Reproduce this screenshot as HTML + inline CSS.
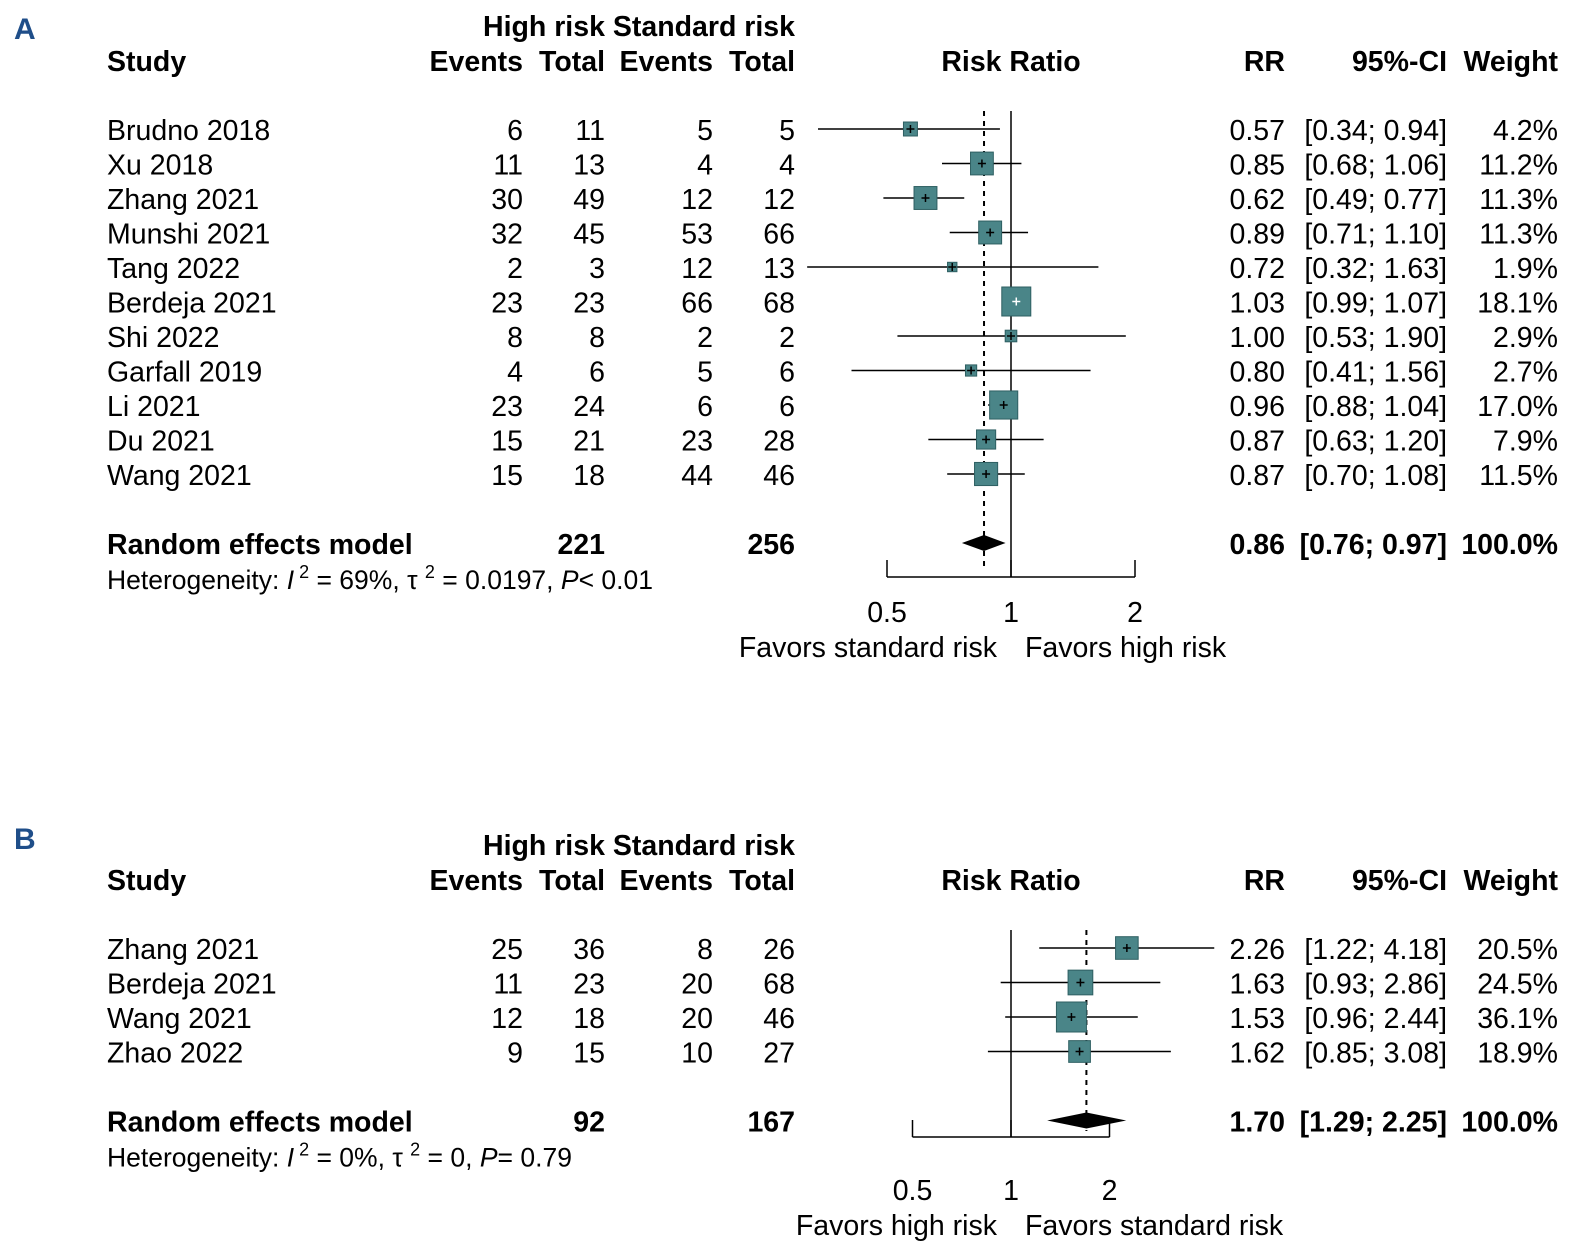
<!DOCTYPE html>
<html><head><meta charset="utf-8"><style>
html,body{margin:0;padding:0;background:#fff}
svg{display:block;font-family:"Liberation Sans",Arial,sans-serif}
</style></head><body>
<svg id="fig" width="1571" height="1247" viewBox="0 0 1571 1247">
<text x="14" y="39" font-size="30" font-weight="bold" fill="#1f4e89">A</text>
<text x="14" y="849" font-size="30" font-weight="bold" fill="#1f4e89">B</text>
</svg>
<script>
// Panel A data
const studiesA = ["Brudno 2018","Xu 2018","Zhang 2021","Munshi 2021","Tang 2022","Berdeja 2021","Shi 2022","Garfall 2019","Li 2021","Du 2021","Wang 2021"];
const hiEventsA = [6,11,30,32,2,23,8,4,23,15,15];
const hiTotalA = [11,13,49,45,3,23,8,6,24,21,18];
const stEventsA = [5,4,12,53,12,66,2,5,6,23,44];
const stTotalA = [5,4,12,66,13,68,2,6,6,28,46];
const rrA = [0.57,0.85,0.62,0.89,0.72,1.03,1.00,0.80,0.96,0.87,0.87];
const loA = [0.34,0.68,0.49,0.71,0.32,0.99,0.53,0.41,0.88,0.63,0.70];
const hiA = [0.94,1.06,0.77,1.10,1.63,1.07,1.90,1.56,1.04,1.20,1.08];
const weightA = [4.2,11.2,11.3,11.3,1.9,18.1,2.9,2.7,17.0,7.9,11.5];
const pooledA = [0.86,0.76,0.97];
const totalsA = [221,256];
const ticksA = [0.5,1,2];
// Panel B data
const studiesB = ["Zhang 2021","Berdeja 2021","Wang 2021","Zhao 2022"];
const hiEventsB = [25,11,12,9];
const hiTotalB = [36,23,18,15];
const stEventsB = [8,20,20,10];
const stTotalB = [26,68,46,27];
const rrB = [2.26,1.63,1.53,1.62];
const loB = [1.22,0.93,0.96,0.85];
const hiB = [4.18,2.86,2.44,3.08];
const weightB = [20.5,24.5,36.1,18.9];
const pooledB = [1.70,1.29,2.25];
const totalsB = [92,167];
const ticksB = [0.5,1,2];

const NS="http://www.w3.org/2000/svg";
const svg=document.getElementById('fig');
function mk(tag,attrs,parent){const e=document.createElementNS(NS,tag);for(const k in attrs)e.setAttribute(k,attrs[k]);(parent||svg).appendChild(e);return e;}
function txt(x,y,s,opts,parent){const e=mk('text',Object.assign({x:x,y:y,'font-size':28.5,fill:'#000'},opts||{}),parent);e.textContent=s;return e;}
const f2=v=>v.toFixed(2);

function panel(p){
  const g=mk('g',{});
  
  
  const X=v=>p.x1+p.scale*Math.log2(v);
  const B={'font-weight':'bold'};
  const R={'text-anchor':'end'};
  const BR={'font-weight':'bold','text-anchor':'end'};
  let t;
  t=txt(795,p.h1,'High risk Standard risk',BR,g);
  
  t=txt(107,p.h2,'Study',B,g);
  [[523,'Events'],[605,'Total'],[713,'Events'],[795,'Total'],[1285,'RR'],[1447,'95%-CI'],[1558,'Weight']].forEach(c=>{
    t=txt(c[0],p.h2,c[1],BR,g);});
  t=txt(1011,p.h2,'Risk Ratio',{'font-weight':'bold','text-anchor':'middle'},g);
  
  const maxW=Math.max(...p.w);
  const lastY=p.y0+(p.st.length-1)*p.dy;
  const poolY=lastY+p.dy*2;
  let l=mk('line',{x1:X(1),x2:X(1),y1:p.y0-18,y2:p.axisY,stroke:'#000','stroke-width':1.5},g);
  
  l=mk('line',{x1:X(p.pool[0]),x2:X(p.pool[0]),y1:p.y0-18,y2:p.axisY-6,stroke:'#000','stroke-width':2,'stroke-dasharray':'5,5'},g);
  
  p.st.forEach((s,i)=>{
    const y=p.y0+i*p.dy, by=y+11;
    t=txt(107,by,s,{},g);
    [[523,p.he[i]],[605,p.ht[i]],[713,p.se[i]],[795,p.stt[i]],[1285,f2(p.rr[i])],[1447,'['+f2(p.lo[i])+'; '+f2(p.hi[i])+']'],[1558,p.w[i].toFixed(1)+'%']].forEach(c=>{
      t=txt(c[0],by,String(c[1]),R,g);});
    l=mk('line',{x1:X(p.lo[i]),x2:X(p.hi[i]),y1:y,y2:y,stroke:'#000','stroke-width':1.5},g);
    
    const sz=p.maxBox*Math.sqrt(p.w[i]/maxW), cx=X(p.rr[i]);
    const r=mk('rect',{x:cx-sz/2,y:y-sz/2,width:sz,height:sz,fill:'#4a8588',stroke:'#2e5f62','stroke-width':1},g);
    
    const c=(p.w[i]===maxW && p.name==='panel-a')?'#fff':'#000';
    mk('line',{x1:cx-4,x2:cx+4,y1:y,y2:y,stroke:c,'stroke-width':1.5},g);
    mk('line',{x1:cx,x2:cx,y1:y-4,y2:y+4,stroke:c,'stroke-width':1.5},g);
  });
  const pb=poolY+11;
  t=txt(107,pb,'Random effects model',B,g);
  [[605,p.tot[0]],[795,p.tot[1]],[1285,f2(p.pool[0])],[1447,'['+f2(p.pool[1])+'; '+f2(p.pool[2])+']'],[1558,'100.0%']].forEach(c=>{
    t=txt(c[0],pb,String(c[1]),BR,g);});
  const d=mk('polygon',{points:`${X(p.pool[1])},${poolY} ${X(p.pool[0])},${poolY-8} ${X(p.pool[2])},${poolY} ${X(p.pool[0])},${poolY+8}`,fill:'#000'},g);
  
  const het=mk('text',{x:107,y:poolY+46,'font-size':26.5,fill:'#000'},g);
  
  het.innerHTML=p.het;
  const ax=mk('g',{},g);
  
  mk('line',{x1:X(p.ticks[0]),x2:X(p.ticks[p.ticks.length-1]),y1:p.axisY,y2:p.axisY,stroke:'#000','stroke-width':1.5},ax);
  p.ticks.forEach(v=>{
    mk('line',{x1:X(v),x2:X(v),y1:p.axisY-17,y2:p.axisY,stroke:'#000','stroke-width':1.5},ax);
    t=txt(X(v),p.axisY+p.labOff,String(v),{'text-anchor':'middle'},ax);
  });
  t=txt(997,p.axisY+p.labOff+35,p.favL,{'text-anchor':'end'},g);
  t=txt(1025,p.axisY+p.labOff+35,p.favR,{},g);
}
panel({name:'panel-a',h1:36,h2:71,y0:129,dy:34.5,x1:1011,scale:124,maxBox:29,axisY:577,labOff:45,
  st:studiesA,he:hiEventsA,ht:hiTotalA,se:stEventsA,stt:stTotalA,rr:rrA,lo:loA,hi:hiA,w:weightA,pool:pooledA,tot:totalsA,ticks:ticksA,
  het:'Heterogeneity: <tspan font-style="italic">I</tspan><tspan dy="-11" font-size="18"> 2</tspan><tspan dy="11"> = 69%, τ </tspan><tspan dy="-11" font-size="18">2</tspan><tspan dy="11"> = 0.0197,  </tspan><tspan font-style="italic">P</tspan>&lt; 0.01',
  favL:'Favors standard risk',favR:'Favors high risk'});
panel({name:'panel-b',h1:855,h2:890,y0:948,dy:34.5,x1:1011,scale:98.5,maxBox:30,axisY:1137,labOff:63,
  st:studiesB,he:hiEventsB,ht:hiTotalB,se:stEventsB,stt:stTotalB,rr:rrB,lo:loB,hi:hiB,w:weightB,pool:pooledB,tot:totalsB,ticks:ticksB,
  het:'Heterogeneity: <tspan font-style="italic">I</tspan><tspan dy="-11" font-size="18"> 2</tspan><tspan dy="11"> = 0%, τ </tspan><tspan dy="-11" font-size="18">2</tspan><tspan dy="11"> = 0,  </tspan><tspan font-style="italic">P</tspan>= 0.79',
  favL:'Favors high risk',favR:'Favors standard risk'});
</script>
</body></html>
